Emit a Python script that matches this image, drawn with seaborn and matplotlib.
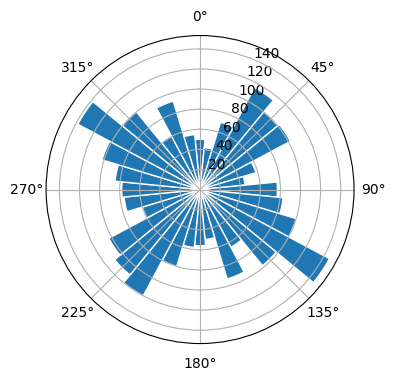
import numpy as np
import seaborn as sns
import matplotlib
matplotlib.use('Agg')
import matplotlib.pyplot as plt

# 32 direction bins, clockwise from north
directions = [0, 11.25, 22.5, 33.75, 45, 56.25, 67.5, 78.75,
              90, 101.25, 112.5, 123.75, 135, 146.25, 157.5, 168.75,
              180, 191.25, 202.5, 213.75, 225, 236.25, 247.5, 258.75,
              270, 281.25, 292.5, 303.75, 315, 326.25, 337.5, 348.75]
counts = [50, 42, 70, 115, 100, 102, 58, 45,
          77, 83, 100, 146, 98, 65, 93, 50,
          56, 58, 80, 120, 110, 103, 60, 76,
          78, 85, 102, 138, 100, 60, 92, 55]

color = sns.color_palette('tab10')[0]

fig = plt.figure(figsize=(4, 4), dpi=100)
ax = fig.add_subplot(111, projection='polar')
ax.set_theta_zero_location('N')
ax.set_theta_direction(-1)

theta = np.deg2rad(directions)
ax.bar(theta, counts, width=np.deg2rad(11.25), color=color,
       edgecolor='white', linewidth=1)

fig.savefig('out.png', bbox_inches='tight')
